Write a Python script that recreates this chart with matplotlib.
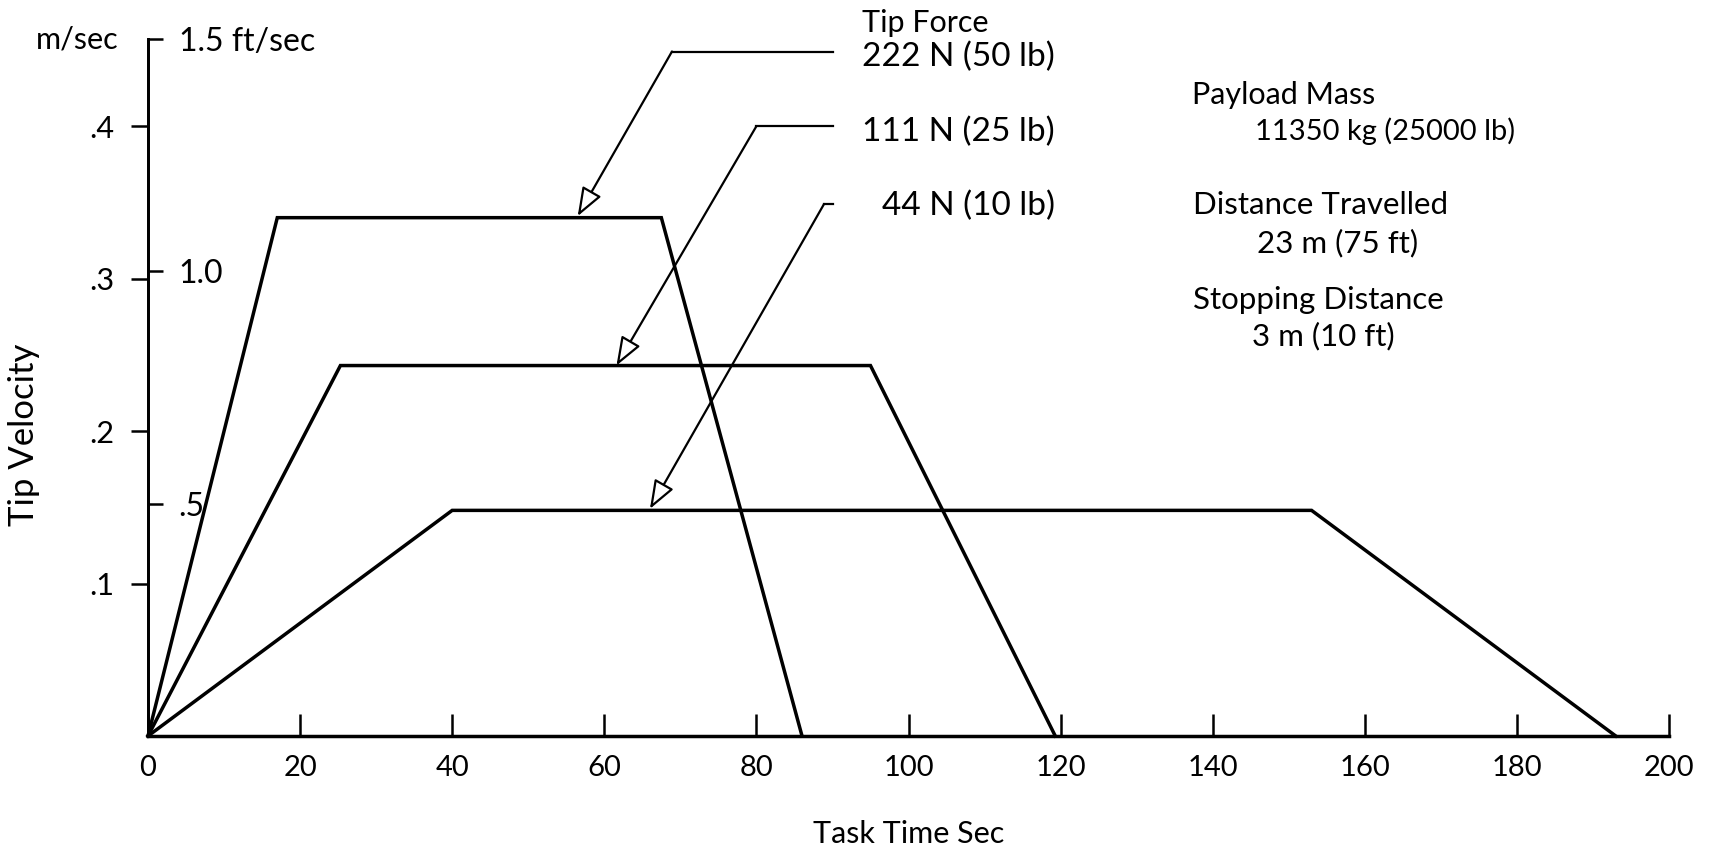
import matplotlib
matplotlib.use("Agg")
import matplotlib.pyplot as plt

# ---- data ----
force_labels = ["222 N (50 lb)", "111 N (25 lb)", "44 N (10 lb)"]
t_222 = [0, 17.0, 67.5, 86.0]
v_222 = [0, 0.340, 0.340, 0]
t_111 = [0, 25.3, 95.0, 119.3]
v_111 = [0, 0.243, 0.243, 0]
t_44 = [0, 40.0, 153.0, 193.0]
v_44 = [0, 0.148, 0.148, 0]

x_ticks = [0, 20, 40, 60, 80, 100, 120, 140, 160, 180, 200]
m_ticks = [0.1, 0.2, 0.3, 0.4]
m_labels = [".1", ".2", ".3", ".4"]
ft_ticks = [0.5, 1.0, 1.5]
ft_labels = [".5", "1.0", "1.5 ft/sec"]
FT = 0.3048

# leader lines: (text-end x, elbow x, y of horizontal) -> arrow tip (x, y)
leader_222 = [(90.1, 0.449), (68.9, 0.449), (56.5, 0.341)]
leader_111 = [(90.1, 0.400), (80.0, 0.400), (61.6, 0.243)]
leader_44 = [(90.1, 0.349), (88.9, 0.349), (66.0, 0.149)]

W, H = 1719, 847
FONT = "Lato"
FS = 22
plt.rcParams["font.family"] = [FONT, "DejaVu Sans"]

fig = plt.figure(figsize=(W / 100, H / 100), dpi=100)
ax = fig.add_axes([148 / W, (H - 736) / H, (1669 - 148) / W, (736 - 39) / H])

for t, v in [(t_222, v_222), (t_111, v_111), (t_44, v_44)]:
    ax.plot(t, v, color="black", lw=2.5, solid_joinstyle="miter", clip_on=False)

ax.set_xlim(0, 200)
ax.set_ylim(0, 1.5 * FT)
for s in ["top", "right"]:
    ax.spines[s].set_visible(False)
ax.spines["left"].set_linewidth(2.0)
ax.spines["bottom"].set_linewidth(2.5)

ax.set_xticks(x_ticks)
ax.set_xticklabels([str(x) for x in x_ticks])
ax.tick_params(axis="x", direction="in", length=16, width=1.8, pad=14, labelsize=21)
ax.set_yticks(m_ticks)
ax.set_yticklabels(m_labels)
ax.tick_params(axis="y", direction="out", length=12, width=1.8, pad=12, labelsize=22)

# secondary ft/sec scale drawn on the right of the same spine
ax2 = ax.twinx()
ax2.set_ylim(ax.get_ylim())
for s in ["top", "left", "bottom"]:
    ax2.spines[s].set_visible(False)
ax2.spines["right"].set_position(("axes", 0))
ax2.spines["right"].set_linewidth(2.0)
ax2.set_yticks([f * FT for f in ft_ticks])
ax2.set_yticklabels(ft_labels)
ax2.tick_params(axis="y", direction="out", length=11, width=1.8, pad=11, labelsize=23)

ax.set_xlabel("Task Time Sec", fontsize=22, labelpad=28)
ax.set_ylabel("Tip Velocity", fontsize=25)
ax.yaxis.set_label_coords(-0.071, 0.432)

def fx(px):
    return px / W

def fy(py):
    return 1 - py / H

fig.text(fx(118), fy(40), "m/sec", ha="right", va="center", fontsize=22)

# Tip force labels and leaders
fig.text(fx(862), fy(23), "Tip Force", ha="left", va="center", fontsize=FS)
text_y = [57, 132, 206]
for lab, ty in zip(force_labels, text_y):
    fig.text(fx(1055), fy(ty), lab, ha="right", va="center", fontsize=24)

for ld in [leader_222, leader_111, leader_44]:
    (x0, y0), (x1, y1), (x2, y2) = ld
    ax.plot([x0, x1], [y0, y1], color="black", lw=1.6, clip_on=False)
    ax.annotate("", xy=(x2, y2), xytext=(x1, y1),
                arrowprops=dict(arrowstyle="-|>,head_length=0.8,head_width=0.3",
                                fc="white", ec="black", lw=1.6,
                                shrinkA=0, shrinkB=0, mutation_scale=22),
                annotation_clip=False)

# right-hand info block
info = [
    ("Payload Mass", 1192, 95, 22),
    ("11350 kg (25000 lb)", 1255, 131, 21),
    ("Distance Travelled", 1193, 205, 22.5),
    ("23 m (75 ft)", 1257, 243, 22.5),
    ("Stopping Distance", 1193, 300, 22.5),
    ("3 m (10 ft)", 1252, 336, 22.5),
]
for s, px, py, fs in info:
    fig.text(fx(px), fy(py), s, ha="left", va="center", fontsize=fs)

fig.savefig("out.png", dpi=100, facecolor="white")
